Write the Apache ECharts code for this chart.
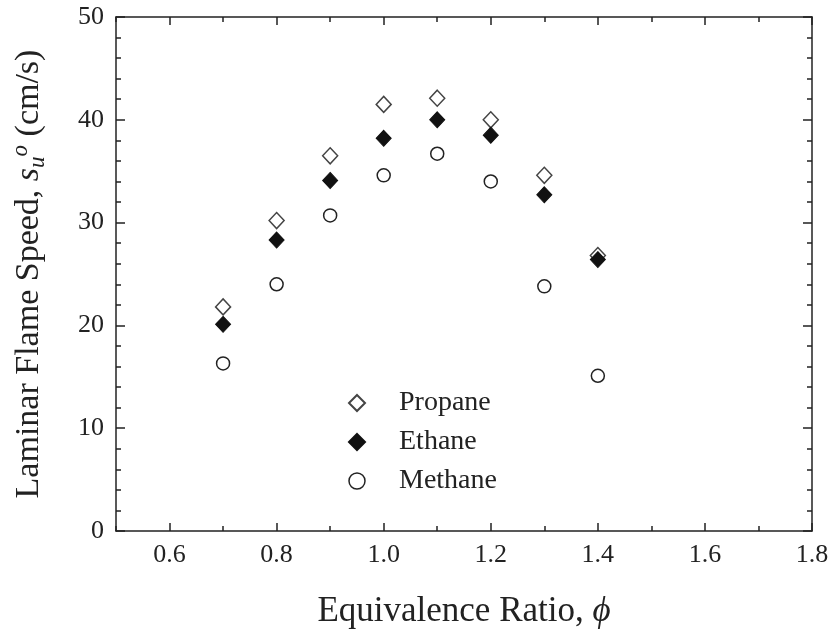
<!DOCTYPE html>
<html>
<head>
<meta charset="utf-8">
<script src="https://cdn.jsdelivr.net/npm/echarts@6/dist/echarts.min.js"></script>
<style>
  html, body { margin: 0; padding: 0; background: #fff; }
  #chart { width: 838px; height: 633px; }
</style>
</head>
<body>
<div id="chart"></div>
<script>
// equivalence ratio phi
const phi = [0.7, 0.8, 0.9, 1.0, 1.1, 1.2, 1.3, 1.4];
// laminar flame speed (cm/s)
const propane = [21.8, 30.2, 36.5, 41.5, 42.1, 40.0, 34.6, 26.8];
const ethane = [20.1, 28.3, 34.1, 38.2, 40.0, 38.5, 32.7, 26.4];
const methane = [16.3, 24.0, 30.7, 34.6, 36.7, 34.0, 23.8, 15.1];

const xLabelValues = [0.6, 0.8, 1.0, 1.2, 1.4, 1.6, 1.8];
const xMinorValues = [0.5, 0.7, 0.9, 1.1, 1.3, 1.5, 1.7];

const font = "'Liberation Serif', 'DejaVu Serif', serif";
const ink = '#222';

function pairs(ys) {
  return phi.map((x, i) => [x, ys[i]]);
}

const chart = echarts.init(document.getElementById('chart'));

const lineStyle = { color: ink, width: 1.5 };

chart.setOption({
  animation: false,
  textStyle: { fontFamily: font },
  grid: { left: 116, right: 26, top: 17, bottom: 102, outerBoundsMode: 'none' },
  legend: {
    orient: 'vertical',
    left: 343,
    top: 384,
    itemWidth: 16,
    itemHeight: 16,
    itemGap: 11,
    textStyle: { fontFamily: font, fontSize: 28, color: ink, padding: [0, 0, 0, 29] },
    data: [
      { name: 'Propane' },
      { name: 'Ethane' },
      { name: 'Methane', itemStyle: { borderWidth: 1.5 } }
    ]
  },
  xAxis: [
    {
      type: 'value',
      min: 0.5,
      max: 1.8,
      interval: 0.1,
      position: 'bottom',
      axisLine: { lineStyle: lineStyle },
      axisTick: { inside: true, length: 8, lineStyle: lineStyle, customValues: xLabelValues },
      axisLabel: {
        customValues: xLabelValues,
        formatter: v => v.toFixed(1),
        fontFamily: font, fontSize: 26, color: ink, margin: 11
      },
      splitLine: { show: false },
      name: 'Equivalence Ratio, {i|ϕ}',
      nameLocation: 'middle',
      nameGap: 63,
      nameTextStyle: {
        fontFamily: font, fontSize: 35, color: ink,
        rich: { i: { fontFamily: font, fontStyle: 'italic', fontSize: 35, color: ink } }
      }
    },
    {
      // short ticks between labels
      type: 'value', min: 0.5, max: 1.8, interval: 0.1, position: 'bottom',
      axisLine: { show: false },
      axisTick: { inside: true, length: 5, lineStyle: lineStyle, customValues: xMinorValues },
      axisLabel: { show: false },
      splitLine: { show: false }
    },
    {
      type: 'value', min: 0.5, max: 1.8, interval: 0.1, position: 'top',
      axisLine: { lineStyle: lineStyle },
      axisTick: { inside: true, length: 8, lineStyle: lineStyle, customValues: xLabelValues },
      axisLabel: { show: false },
      splitLine: { show: false }
    },
    {
      type: 'value', min: 0.5, max: 1.8, interval: 0.1, position: 'top',
      axisLine: { show: false },
      axisTick: { inside: true, length: 5, lineStyle: lineStyle, customValues: xMinorValues },
      axisLabel: { show: false },
      splitLine: { show: false }
    }
  ],
  yAxis: [
    {
      type: 'value',
      min: 0,
      max: 50,
      interval: 10,
      position: 'left',
      axisLine: { show: true, lineStyle: lineStyle },
      axisTick: { show: true, inside: true, length: 9, lineStyle: lineStyle },
      minorTick: { show: true, splitNumber: 5, length: 5, lineStyle: lineStyle },
      axisLabel: { fontFamily: font, fontSize: 26, color: ink, margin: 12 },
      splitLine: { show: false },
      name: '{t|Laminar Flame Speed, }{i|s}{sub|u}{sup|o}{t| (cm/s)}',
      nameLocation: 'middle',
      nameGap: 67,
      nameTextStyle: {
        fontFamily: font, fontSize: 34, color: ink,
        rich: {
          t: { fontFamily: font, fontSize: 34, color: ink, lineHeight: 40 },
          i: { fontFamily: font, fontStyle: 'italic', fontSize: 34, color: ink, lineHeight: 40 },
          sub: { fontFamily: font, fontStyle: 'italic', fontSize: 23, color: ink, verticalAlign: 'bottom', lineHeight: 22 },
          sup: { fontFamily: font, fontStyle: 'italic', fontSize: 23, color: ink, verticalAlign: 'top', lineHeight: 22 }
        }
      }
    },
    {
      type: 'value', min: 0, max: 50, interval: 10, position: 'right',
      axisLine: { show: true, lineStyle: lineStyle },
      axisTick: { show: true, inside: true, length: 9, lineStyle: lineStyle },
      minorTick: { show: true, splitNumber: 5, length: 5, lineStyle: lineStyle },
      axisLabel: { show: false },
      splitLine: { show: false }
    }
  ],
  series: [
    {
      name: 'Propane',
      type: 'scatter',
      data: pairs(propane),
      symbol: 'diamond',
      symbolSize: [15, 16],
      itemStyle: { color: '#fff', borderColor: '#444', borderWidth: 1.5, opacity: 1 }
    },
    {
      name: 'Ethane',
      type: 'scatter',
      data: pairs(ethane),
      symbol: 'diamond',
      symbolSize: [15, 16],
      itemStyle: { color: '#111', borderColor: '#111', borderWidth: 1, opacity: 1 }
    },
    {
      name: 'Methane',
      type: 'scatter',
      data: pairs(methane),
      symbol: 'circle',
      symbolSize: 13,
      itemStyle: { color: '#fff', borderColor: '#222', borderWidth: 1.5, opacity: 1 }
    }
  ]
});
</script>
</body>
</html>
